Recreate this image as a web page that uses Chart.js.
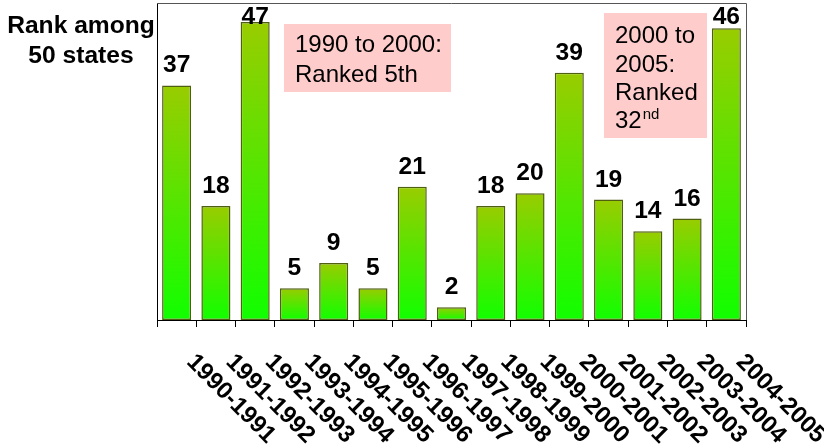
<!DOCTYPE html>
<html>
<head>
<meta charset="utf-8">
<script src="https://cdn.jsdelivr.net/npm/chart.js@4/dist/chart.umd.min.js"></script>
<style>
  html, body { margin: 0; padding: 0; background: #ffffff; }
  #wrap { width: 824px; height: 446px; }
</style>
</head>
<body>
<div id="wrap"><canvas id="c" width="824" height="446"></canvas></div>
<script>
// State rank per fiscal period (1 = best of 50)
const periods = [
  '1990-1991', '1991-1992', '1992-1993', '1993-1994', '1994-1995',
  '1995-1996', '1996-1997', '1997-1998', '1998-1999', '1999-2000',
  '2000-2001', '2001-2002', '2002-2003', '2003-2004', '2004-2005'
];
const ranks = [37, 18, 47, 5, 9, 5, 21, 2, 18, 20, 39, 19, 14, 16, 46];

const axisTitle = ['Rank among', '50 states'];
const noteEarly = ['1990 to 2000:', 'Ranked 5th'];
const noteLate = ['2000 to', '2005:', 'Ranked', '32'];
const noteLateSup = 'nd';

const BOLD = 'bold 23px "Liberation Sans", Arial, sans-serif';
const BOLD_TICK = 'bold 24px "Liberation Sans", Arial, sans-serif';
const PLAIN = '24px "Liberation Sans", Arial, sans-serif';
const SUP = '15px "Liberation Sans", Arial, sans-serif';

function barFill(context) {
  const chart = context.chart;
  const yScale = chart.scales && chart.scales.y;
  if (!yScale || context.type !== 'data') return '#66dd00';
  const top = yScale.getPixelForValue(context.raw);
  const bottom = yScale.getPixelForValue(0);
  if (!isFinite(top) || !isFinite(bottom) || top === bottom) return '#66dd00';
  const g = chart.ctx.createLinearGradient(0, top, 0, bottom);
  g.addColorStop(0, '#99cc00');
  g.addColorStop(1, '#11ff00');
  return g;
}

// centred bold text, slightly widened
function wideText(ctx, text, x, y) {
  ctx.save();
  ctx.translate(x, y);
  ctx.scale(1.07, 1);
  ctx.fillText(text, 0, 0);
  ctx.restore();
}

// thin frame around the plot area
const plotFrame = {
  id: 'plotFrame',
  beforeDatasetsDraw(chart) {
    const { ctx, chartArea: a } = chart;
    ctx.save();
    ctx.strokeStyle = '#555555';
    ctx.lineWidth = 1;
    ctx.beginPath();
    ctx.moveTo(a.left, a.top + 0.5);
    ctx.lineTo(a.right + 0.5, a.top + 0.5);
    ctx.lineTo(a.right + 0.5, a.bottom);
    ctx.stroke();
    ctx.restore();
  }
};

const decorations = {
  id: 'decorations',
  afterDraw(chart) {
    const ctx = chart.ctx;
    const xs = chart.scales.x;
    const ys = chart.scales.y;
    ctx.save();
    ctx.fillStyle = '#000000';

    // axis caption, top left
    ctx.font = BOLD;
    ctx.textAlign = 'center';
    ctx.textBaseline = 'alphabetic';
    wideText(ctx, axisTitle[0], 81, 33);
    wideText(ctx, axisTitle[1], 81, 63);

    // value above every bar
    const meta = chart.getDatasetMeta(0);
    meta.data.forEach((bar, i) => {
      const base = Math.max(bar.y - 13, 24);
      wideText(ctx, String(ranks[i]), bar.x, base);
    });

    // note boxes
    ctx.fillStyle = '#ffcccc';
    ctx.fillRect(284, 24, 167, 68);
    ctx.fillRect(604, 13, 103, 125);
    ctx.fillStyle = '#000000';
    ctx.font = PLAIN;
    ctx.textAlign = 'left';
    ctx.fillText(noteEarly[0], 295, 52);
    ctx.fillText(noteEarly[1], 295, 82);
    const lateBase = [43, 72, 100, 128];
    noteLate.forEach((t, i) => ctx.fillText(t, 615, lateBase[i]));
    const w32 = ctx.measureText(noteLate[3]).width;
    ctx.font = SUP;
    ctx.fillText(noteLateSup, 615 + w32 + 1, 119);

    // period labels, slanted downward to the right
    ctx.font = BOLD_TICK;
    ctx.textAlign = 'left';
    periods.forEach((p, i) => {
      const cx = xs.getPixelForValue(i);
      ctx.save();
      ctx.translate(cx + 9, ys.bottom + 43);
      ctx.rotate(Math.PI / 4);
      ctx.fillText(p, 0, 0);
      ctx.restore();
    });
    ctx.restore();
  }
};

new Chart(document.getElementById('c'), {
  type: 'bar',
  data: {
    labels: periods,
    datasets: [{
      data: ranks,
      backgroundColor: barFill,
      borderColor: '#4f5f10',
      borderWidth: 1.5,
      borderSkipped: false,
      barPercentage: 0.74,
      categoryPercentage: 1.0
    }]
  },
  options: {
    responsive: false,
    animation: false,
    devicePixelRatio: 1,
    layout: { padding: { left: 157, right: 78, top: 3, bottom: 119 } },
    plugins: {
      legend: { display: false },
      tooltip: { enabled: false },
      title: { display: false }
    },
    scales: {
      x: {
        offset: true,
        grid: {
          display: true,
          offset: true,
          drawOnChartArea: false,
          drawTicks: true,
          tickLength: 7,
          color: '#000000',
          lineWidth: 1
        },
        border: { display: true, color: '#000000', width: 1 },
        ticks: { display: false }
      },
      y: {
        min: 0,
        max: 50,
        grid: { display: false, drawTicks: false },
        border: { display: true, color: '#000000', width: 1 },
        ticks: { display: false }
      }
    }
  },
  plugins: [plotFrame, decorations]
});
</script>
</body>
</html>
